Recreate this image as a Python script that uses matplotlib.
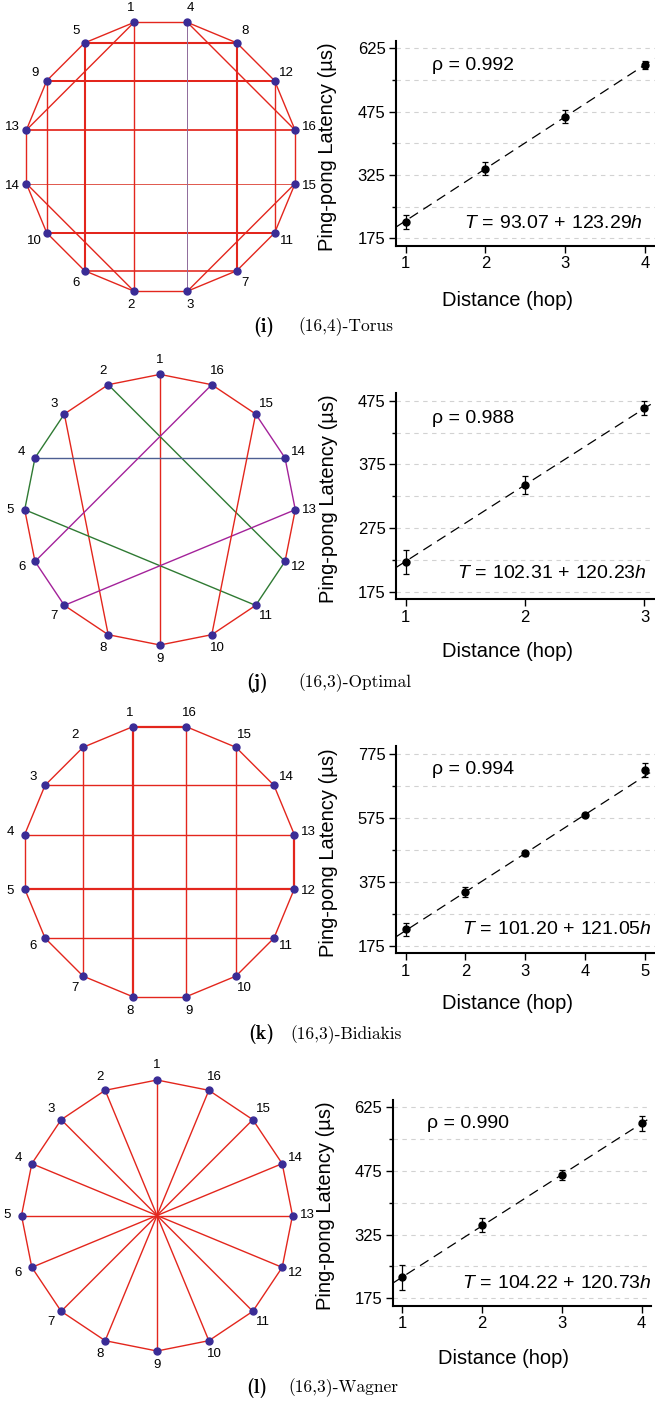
import numpy as np
import matplotlib
matplotlib.use("Agg")
import matplotlib.pyplot as plt

plt.rcParams['font.family'] = ['Liberation Sans', 'DejaVu Sans']
plt.rcParams['mathtext.fontset'] = 'custom'
plt.rcParams['mathtext.rm'] = 'Liberation Sans'
plt.rcParams['mathtext.it'] = 'Liberation Sans:italic'
plt.rcParams['mathtext.bf'] = 'Liberation Sans:bold'

W, H = 655, 1405
DPI = 100

# ---------------- (16,4)-Torus ----------------
torus_ring = [1, 4, 8, 12, 16, 15, 11, 7, 3, 2, 6, 10, 14, 13, 9, 5]
torus_chords = [(5, 8), (9, 12), (13, 16), (14, 15), (10, 11), (6, 7),
                (1, 2), (4, 3), (5, 6), (8, 7), (9, 10), (12, 11),
                (1, 13), (4, 16), (14, 2), (15, 3)]
torus_hops = [1, 2, 3, 4]
torus_latency = [213, 340, 463, 586]
torus_error = [16, 15, 16, 9.5]
torus_fit = [93.07, 123.29]
torus_rho = 0.992
torus_yticks = [175, 325, 475, 625]

# ---------------- (16,3)-Optimal ----------------
optimal_ring = list(range(1, 17))
optimal_chords = [(1, 9), (2, 12), (3, 8), (4, 14), (5, 11), (6, 16), (7, 13), (10, 15)]
optimal_hops = [1, 2, 3]
optimal_latency = [222, 343, 463]
optimal_error = [19, 14, 11]
optimal_fit = [102.31, 120.23]
optimal_rho = 0.988
optimal_yticks = [175, 275, 375, 475]

# ---------------- (16,3)-Bidiakis ----------------
bidiakis_ring = list(range(1, 17))
bidiakis_chords = [(1, 8), (16, 9), (2, 7), (15, 10), (3, 14), (4, 13), (5, 12), (6, 11)]
bidiakis_hops = [1, 2, 3, 4, 5]
bidiakis_latency = [226, 344, 464, 583, 725]
bidiakis_error = [20, 16, 8, 6, 22]
bidiakis_fit = [101.20, 121.05]
bidiakis_rho = 0.994
bidiakis_yticks = [175, 375, 575, 775]

# ---------------- (16,3)-Wagner ----------------
wagner_ring = list(range(1, 17))
wagner_chords = [(1, 9), (2, 10), (3, 11), (4, 12), (5, 13), (6, 14), (7, 15), (8, 16)]
wagner_hops = [1, 2, 3, 4]
wagner_latency = [224, 348, 466, 587]
wagner_error = [29, 16, 12, 17]
wagner_fit = [104.22, 120.73]
wagner_rho = 0.990
wagner_yticks = [175, 325, 475, 625]

captions = [("(i)", "(16,4)-Torus"), ("(j)", "(16,3)-Optimal"),
            ("(k)", "(16,3)-Bidiakis"), ("(l)", "(16,3)-Wagner")]

# ---------------- styling ----------------
RED = '#e3261d'
GREEN = '#2f7a33'
PURPLE = '#a3229a'
SLATE = '#4d5f92'
NODE = '#3a2c96'
GRID = '#d2d2d2'
BASE_LW = 1.0

torus_widths = {(5, 8): 1.5, (9, 12): 1.45, (10, 11): 1.45, (5, 6): 1.5, (8, 7): 1.5,
                (13, 16): 1.25, (6, 7): 1.15, (14, 15): 0.7, (4, 3): 0.7}
torus_colors = {(4, 3): '#8e6a9a', (14, 15): '#e0574c'}
optimal_colors = {(3, 4): GREEN, (4, 5): GREEN, (11, 12): GREEN, (2, 12): GREEN, (5, 11): GREEN,
                  (6, 7): PURPLE, (13, 14): PURPLE, (14, 15): PURPLE, (6, 16): PURPLE,
                  (7, 13): PURPLE, (4, 14): SLATE}
bidiakis_widths = {(1, 16): 1.6, (1, 8): 1.6, (5, 12): 1.6, (12, 13): 1.6}

fig = plt.figure(figsize=(W / DPI, H / DPI), dpi=DPI)


def px_axes(left, top, right, bottom):
    return fig.add_axes([left / W, 1 - bottom / H, (right - left) / W, (bottom - top) / H])


def ftext(x, y, s, **kw):
    return fig.text(x / W, 1 - y / H, s, **kw)


def draw_graph(cx, cy, r, ring, start_deg, direction, chords, colors=None, widths=None):
    colors = colors or {}
    widths = widths or {}
    half = 168
    ax = px_axes(cx - half, cy - half, cx + half, cy + half)
    lim = half / r
    ax.set_xlim(-lim, lim)
    ax.set_ylim(-lim, lim)
    ax.axis('off')
    n = len(ring)
    ang = {node: np.deg2rad(start_deg + direction * 360.0 / n * k) for k, node in enumerate(ring)}
    pos = {node: (np.cos(a), np.sin(a)) for node, a in ang.items()}
    edges = [(ring[k], ring[(k + 1) % n]) for k in range(n)] + list(chords)
    for a, b in edges:
        c = colors.get((a, b), colors.get((b, a), RED))
        lw = widths.get((a, b), widths.get((b, a), BASE_LW))
        ax.plot([pos[a][0], pos[b][0]], [pos[a][1], pos[b][1]], color=c, lw=lw,
                solid_capstyle='round', zorder=1)
    ax.plot([pos[k][0] for k in ring], [pos[k][1] for k in ring], 'o', ls='none',
            color=NODE, ms=5.0, zorder=3, clip_on=False)
    off = 1 + 14.5 / r
    for node in ring:
        a = ang[node]
        ax.text(off * np.cos(a), off * np.sin(a), str(node), ha='center', va='center',
                fontsize=9.5, clip_on=False)


def draw_latency(box, hops, lat, err, fit, rho, yticks, ylab_xy, xlab_xy, rho_xy, eq_xy):
    ax = px_axes(*box)
    lo, hi = yticks[0], yticks[-1]
    ypad = 0.04 * (hi - lo)
    xpad = 0.04 * (hops[-1] - hops[0])
    ax.set_ylim(lo - ypad, hi + ypad)
    ax.set_xlim(hops[0] - xpad, hops[-1] + xpad)
    step = yticks[1] - yticks[0]
    ax.set_yticks(yticks)
    ax.set_yticklabels([str(t) for t in yticks])
    ax.set_yticks([t + step / 2 for t in yticks[:-1]], minor=True)
    ax.set_xticks(hops)
    ax.set_xticklabels([str(h) for h in hops])
    ax.grid(axis='y', which='both', color=GRID, lw=0.8, ls=(0, (4, 4)), zorder=0)
    ax.set_axisbelow(True)
    for s in ('top', 'right'):
        ax.spines[s].set_visible(False)
    for s in ('left', 'bottom'):
        ax.spines[s].set_linewidth(1.5)
    ax.tick_params(axis='both', which='major', direction='out', length=5, width=1.0,
                   labelsize=12, pad=2.5)
    ax.tick_params(axis='y', which='minor', direction='out', length=3, width=1.0)
    ax.patch.set_alpha(0)

    a, b = fit
    xs = np.array(ax.get_xlim())
    ax.plot(xs, a + b * xs, color='black', lw=0.9, dashes=(8, 5), zorder=2)
    ax.errorbar(hops, lat, yerr=err, fmt='o', color='black', ms=5, capsize=2.5,
                elinewidth=0.9, capthick=0.9, zorder=3, clip_on=False)

    ftext(*ylab_xy, "Ping-pong Latency (\u00b5s)", rotation=90, ha='center', va='center',
          fontsize=14.5)
    ftext(*xlab_xy, "Distance (hop)", ha='center', va='center', fontsize=14.5)
    ftext(*rho_xy, "\u03c1 = %.3f" % rho, ha='left', va='center', fontsize=14)
    ftext(*eq_xy, r"$T\,=\,\mathrm{%.2f}\,+\,\mathrm{%.2f}h$" % (a, b), ha='left',
          va='center', fontsize=14)


# graphs
draw_graph(160.7, 156.8, 137.0, torus_ring, 101.25, -1, torus_chords,
           colors=torus_colors, widths=torus_widths)
draw_graph(160.0, 509.7, 135.3, optimal_ring, 90.0, 1, optimal_chords, colors=optimal_colors)
draw_graph(159.5, 861.7, 137.6, bidiakis_ring, 101.25, 1, bidiakis_chords, widths=bidiakis_widths)
draw_graph(157.0, 1215.5, 135.5, wagner_ring, 90.0, 1, wagner_chords)

# latency vs distance
draw_latency((396, 40.7, 654.7, 245.9), torus_hops, torus_latency, torus_error, torus_fit,
             torus_rho, torus_yticks, (327.3, 146.5), (507.7, 300), (431.7, 65), (464, 223.3))
draw_latency((396, 393.1, 654.0, 599.3), optimal_hops, optimal_latency, optimal_error,
             optimal_fit, optimal_rho, optimal_yticks, (328.7, 499), (507.7, 651.7),
             (431.7, 418.3), (456.7, 573.3))
draw_latency((396, 746.3, 654.6, 953.4), bidiakis_hops, bidiakis_latency, bidiakis_error,
             bidiakis_fit, bidiakis_rho, bidiakis_yticks, (328.7, 853), (507.7, 1003.3),
             (431.7, 770), (462, 930))
draw_latency((392.7, 1099.7, 651.3, 1305.9), wagner_hops, wagner_latency, wagner_error,
             wagner_fit, wagner_rho, wagner_yticks, (325.7, 1206), (503.3, 1358.3),
             (427.3, 1123.3), (461.7, 1283.3))

# sub-figure captions
cap_pos = [(253, 298, 327), (246, 298, 683), (248, 290, 1034.3), (246, 288, 1388)]
for (tag, name), (xt, xn, y) in zip(captions, cap_pos):
    ftext(xt, y, tag, family='cmb10', fontsize=14.5, ha='left', va='center')
    ftext(xn, y, name, family='cmr10', fontsize=12.5, ha='left', va='center')

fig.savefig("out.png", dpi=DPI)
